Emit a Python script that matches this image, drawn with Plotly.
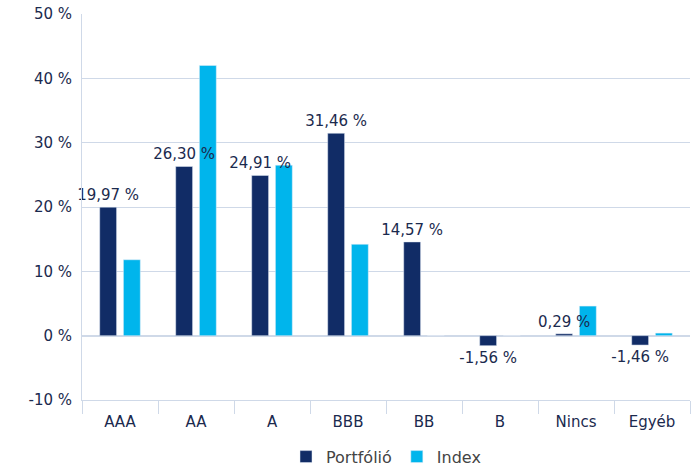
import plotly.graph_objects as go

categories = ["AAA", "AA", "A", "BBB", "BB", "B", "Nincs", "Egyéb"]
portfolio = [19.97, 26.30, 24.91, 31.46, 14.57, -1.56, 0.29, -1.46]
index_vals = [11.8, 42.0, 26.5, 14.2, 0.0, 0.0, 4.6, 0.4]
y_ticks = [-10, 0, 10, 20, 30, 40, 50]
y_tick_labels = ["-10 %", "0 %", "10 %", "20 %", "30 %", "40 %", "50 %"]

navy = "#112c66"
cyan = "#00b5ec"
textc = "#1b2a4e"
gridc = "#cfd9e8"

bar_w = 0.222
gap = 0.09

fig = go.Figure()
fig.add_trace(go.Bar(
    x=categories, y=index_vals, name="Index", marker_color=cyan,
    width=bar_w, offset=gap / 2,
))
fig.add_trace(go.Bar(
    x=categories, y=portfolio, name="Portfólió", marker_color=navy,
    width=bar_w, offset=-(bar_w + gap / 2),
    texttemplate="%{y:.2f} %", textposition="outside", cliponaxis=False,
    constraintext="none",
    textfont=dict(size=15, color=textc, family="DejaVu Sans"),
))
fig.update_layout(
    width=698, height=466,
    margin=dict(l=82, r=8, t=14, b=66),
    paper_bgcolor="white", plot_bgcolor="white",
    separators=", ",
    barmode="overlay",
    font=dict(family="DejaVu Sans", size=14, color=textc),
    showlegend=True,
    legend=dict(orientation="h", x=0.5, xanchor="center", yref="container",
                y=0.02, yanchor="middle", traceorder="reversed",
                font=dict(size=16, color="#444444")),
    uniformtext=dict(mode=False),
)
fig.update_xaxes(
    automargin=False,
    showline=True, linecolor=gridc, ticks="outside", tickson="boundaries",
    ticklen=13, tickcolor=gridc, ticklabelstandoff=8,
    tickfont=dict(size=15, color=textc),
)
fig.update_yaxes(
    automargin=False,
    range=[-10, 50], tickvals=y_ticks, ticktext=y_tick_labels,
    showgrid=True, gridcolor=gridc, zeroline=True, zerolinecolor=gridc,
    showline=True, linecolor=gridc, tickfont=dict(size=15, color=textc),
    ticks="outside", ticklen=6, tickcolor="white", ticklabeloverflow="allow",
)
fig.write_html(
    "out.html",
    config={"displayModeBar": False},
    post_script="document.body.style.margin='0';document.body.style.overflow='hidden';",
)
